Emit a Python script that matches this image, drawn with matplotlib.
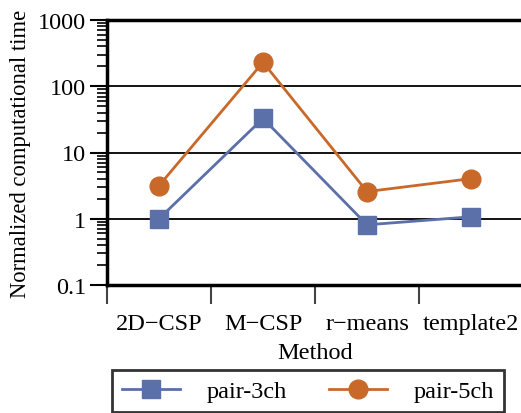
import matplotlib
matplotlib.use("Agg")
import matplotlib.pyplot as plt
from matplotlib.ticker import FixedLocator, LogLocator, NullFormatter

methods = ["2D\u2212CSP", "M\u2212CSP", "r\u2212means", "template2"]
pair_3ch = [1.0, 32.7, 0.81, 1.07]
pair_5ch = [3.16, 230, 2.57, 4.03]
yticks = [0.1, 1, 10, 100, 1000]
ytick_labels = ["0.1", "1", "10", "100", "1000"]

plt.rcParams['font.family'] = ['Liberation Serif', 'DejaVu Serif']
FS = 17.5

fig = plt.figure(figsize=(5.21, 4.14), dpi=100)
ax = fig.add_axes([107/521, 1-286/414, (523-107)/521, (286-21)/414])

x = list(range(len(methods)))
blue = "#5b6fa9"
orange = "#c8692a"
l1, = ax.plot(x, pair_3ch, color=blue, lw=2, marker="s", ms=13, label="pair-3ch", zorder=3)
l2, = ax.plot(x, pair_5ch, color=orange, lw=2, marker="o", ms=13.5, label="pair-5ch", zorder=3)

ax.set_yscale("log")
ax.set_ylim(0.1, 1000)
ax.set_xlim(-0.5, 3.5)
ax.set_yticks(yticks)
ax.set_yticklabels(ytick_labels)
ax.yaxis.set_minor_locator(LogLocator(base=10, subs=range(2, 10)))
ax.yaxis.set_minor_formatter(NullFormatter())

ax.xaxis.set_major_locator(FixedLocator([-0.5, 0.5, 1.5, 2.5, 3.5]))
ax.xaxis.set_major_formatter(NullFormatter())
ax.xaxis.set_minor_locator(FixedLocator(x))
ax.set_xticklabels(methods, minor=True)
ax.tick_params(axis="x", which="minor", length=0, pad=20, labelsize=FS)
ax.tick_params(axis="x", which="major", length=14, width=1.5, color="#444444")
ax.tick_params(axis="y", which="major", length=12, width=1.5, labelsize=FS, pad=3)
ax.tick_params(axis="y", which="minor", length=7, width=1.2)

for yv in [1, 10, 100]:
    ax.axhline(yv, color="black", lw=1.3, zorder=1)

for s in ["left", "top", "bottom"]:
    ax.spines[s].set_linewidth(2.5)
ax.spines["right"].set_visible(False)

ax.set_xlabel("Method", fontsize=FS, labelpad=6)
ax.set_ylabel("Normalized computational time", fontsize=16.3, labelpad=5)

leg = fig.legend(handles=[l1, l2], loc="lower center", bbox_to_anchor=(308/521, 0.0),
                 ncol=2, fontsize=FS, frameon=True, fancybox=False, edgecolor="black",
                 handlelength=2.4, columnspacing=1.7, borderpad=0.4, handletextpad=1.1,
                 borderaxespad=0.05)
leg.get_frame().set_linewidth(2)

fig.savefig("out.png", dpi=100)
